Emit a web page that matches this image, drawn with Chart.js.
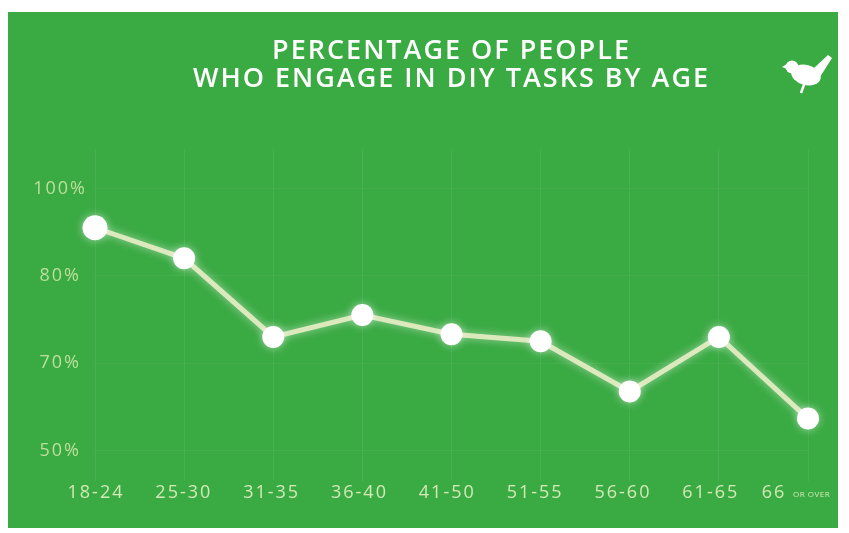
<!DOCTYPE html>
<html>
<head>
<meta charset="utf-8">
<script src="https://cdn.jsdelivr.net/npm/chart.js@4/dist/chart.umd.min.js"></script>
<style>
  html, body { margin: 0; padding: 0; background: #fff; }
  #wrap { position: absolute; left: 8px; top: 12px; width: 830px; height: 516px; background: #3aaa43; }
</style>
</head>
<body>
<div id="wrap"><canvas id="diyChart" width="830" height="516"></canvas></div>
<script>
// age groups along the bottom
const ageGroups = ['18-24', '25-30', '31-35', '36-40', '41-50', '51-55', '56-60', '61-65', '66 OR OVER'];
// share of people doing DIY tasks (%)
const diyShare = [91, 84, 73, 75.5, 73.3, 72.5, 63.5, 73, 57.3];
// the y labels are evenly spaced even though the steps are not
const yTickValues = [50, 70, 80, 100];
const titleLines = ['PERCENTAGE OF PEOPLE', 'WHO ENGAGE IN DIY TASKS BY AGE'];

// place a percentage between the evenly spaced y labels
function toAxis(v) {
    for (let i = 0; i < yTickValues.length - 1; i++) {
        const a = yTickValues[i], b = yTickValues[i + 1];
        if (v <= b || i === yTickValues.length - 2) return i + (v - a) / (b - a);
    }
    return 0;
}

const paleText = '#bddf9c';

// the original lettering is wide, so space it out a bit
const spacing = {
    id: 'spacing',
    beforeDraw(chart) {
        chart.ctx.letterSpacing = '2px';
    }
};

// bottom labels, "66 or over" has the small "OR OVER"
const ageLabels = {
    id: 'ageLabels',
    afterDraw(chart) {
        const ctx = chart.ctx;
        const x = chart.scales.x;
        ctx.save();
        ctx.fillStyle = '#d3e9b6';
        ctx.textBaseline = 'middle';
        ageGroups.forEach((g, i) => {
            const px = x.getPixelForValue(i);
            const py = 481;
            if (g.startsWith('66')) {
                ctx.letterSpacing = '2px';
                ctx.font = '500 18px "Open Sans"';
                const w1 = ctx.measureText('66 ').width;
                ctx.letterSpacing = '0.5px';
                ctx.font = '500 8px "Open Sans"';
                const w2 = ctx.measureText('OR OVER').width;
                let left = px - 12 - (w1 + w2) / 2;
                ctx.textAlign = 'left';
                ctx.letterSpacing = '2px';
                ctx.font = '500 18px "Open Sans"';
                ctx.fillText('66', left, py);
                ctx.letterSpacing = '0.5px';
                ctx.font = '500 8px "Open Sans"';
                ctx.fillText('OR OVER', left + w1, py + 2);
            } else {
                ctx.letterSpacing = '2px';
                ctx.font = '500 18px "Open Sans"';
                ctx.textAlign = 'center';
                ctx.fillText(g, px + 1 - 1.3 * i, py);
            }
        });
        ctx.restore();
    }
};

// little bird in the top right corner
const bird = {
    id: 'bird',
    afterDraw(chart) {
        const ctx = chart.ctx;
        ctx.save();
        ctx.fillStyle = '#ffffff';
        ctx.strokeStyle = '#ffffff';
        ctx.beginPath();
        ctx.ellipse(798, 63, 15, 10, 0.25, 0, Math.PI * 2);
        ctx.fill();
        ctx.beginPath();
        ctx.arc(784, 55, 6.5, 0, Math.PI * 2);
        ctx.fill();
        ctx.beginPath();
        ctx.moveTo(779, 52); ctx.lineTo(774, 55); ctx.lineTo(779, 57);
        ctx.fill();
        ctx.beginPath();
        ctx.moveTo(806, 56); ctx.lineTo(820, 43); ctx.lineTo(824, 46); ctx.lineTo(812, 65);
        ctx.closePath();
        ctx.fill();
        ctx.lineWidth = 2.5;
        ctx.beginPath();
        ctx.moveTo(797, 70); ctx.lineTo(793, 81);
        ctx.stroke();
        ctx.restore();
    }
};

// soft glow round the line and dots
const glow = {
    id: 'glow',
    beforeDatasetDraw(chart) {
        chart.ctx.save();
        chart.ctx.shadowColor = 'rgba(255,255,255,0.55)';
        chart.ctx.shadowBlur = 8;
    },
    afterDatasetDraw(chart) {
        chart.ctx.restore();
    }
};

const ctx = document.getElementById('diyChart').getContext('2d');
const diyChart = new Chart(ctx, {
    type: 'line',
    data: {
        labels: ageGroups,
        datasets: [{
            data: diyShare.map(toAxis),
            borderColor: '#dbe9bd',
            borderWidth: 5,
            pointBackgroundColor: '#ffffff',
            pointBorderColor: '#ffffff',
            pointRadius: ctx => ctx.dataIndex === 0 ? 12.5 : 11,
            pointBorderWidth: 0,
            tension: 0,
            clip: false
        }]
    },
    options: {
        responsive: false,
        animation: false,
        layout: { padding: { top: 0, left: 14, right: 30, bottom: 47 } },
        plugins: {
            legend: { display: false },
            tooltip: { enabled: false },
            title: {
                display: true,
                text: titleLines,
                fullSize: false,
                color: '#ffffff',
                font: { family: '"Open Sans"', size: 27, weight: '600', lineHeight: 1.04 },
                padding: { top: 25, bottom: 56 }
            }
        },
        scales: {
            x: {
                offset: false,
                ticks: { display: false },
                border: { display: false },
                grid: { color: 'rgba(255,255,255,0.07)', drawTicks: false }
            },
            y: {
                min: -0.35,
                max: 3.45,
                afterBuildTicks: scale => { scale.ticks = yTickValues.map((_, i) => ({ value: i })); },
                afterFit: scale => { scale.width = 73; },
                ticks: {
                    crossAlign: 'center',
                    padding: 12,
                    color: paleText,
                    font: { family: '"Open Sans"', size: 18, weight: '500' },
                    callback: v => yTickValues[v] + '%'
                },
                border: { display: false },
                grid: { color: 'rgba(255,255,255,0.06)', drawTicks: false }
            }
        }
    },
    plugins: [spacing, glow, ageLabels, bird]
});
</script>
</body>
</html>
